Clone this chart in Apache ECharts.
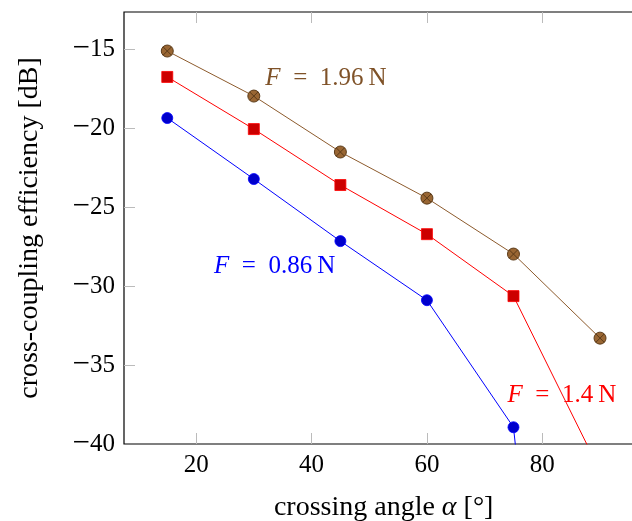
<!DOCTYPE html>
<html>
<head>
<meta charset="utf-8">
<script src="https://cdn.jsdelivr.net/npm/echarts@6/dist/echarts.min.js"></script>
<style>
html,body{margin:0;padding:0;background:#fff;}
#chart1{width:632px;height:521px;}
</style>
</head>
<body>
<div id="chart1"></div>
<script>
//数据
var angles = [15, 30, 45, 60, 75, 90];
var eff_086 = [-19.37, -23.23, -27.16, -30.90, -38.94, -90];
var eff_14 = [-16.77, -20.07, -23.61, -26.72, -30.64, -41.7];
var eff_196 = [-15.13, -17.98, -21.52, -24.44, -27.98, -33.30];
var xTicks = [20, 40, 60, 80];
var yTicks = [-40, -35, -30, -25, -20, -15];
var yTickMarks = [-35, -30, -25, -20, -15]; // -40 处刻度与下边框重合，不画

var font = 'Liberation Serif';

function pairs(ys) {
    var out = [];
    for (var i = 0; i < angles.length; i++) {
        out.push([angles[i], ys[i]]);
    }
    return out;
}

// otimes 标记
var otimes = 'path://M0,10 A10,10 0 1,1 20,10 A10,10 0 1,1 0,10 Z M2.93,2.93 L17.07,17.07 M17.07,2.93 L2.93,17.07';

// 曲线旁的 F = ... 标注
function fLabel(x, y, txt, color) {
    return {
        symbol: 'circle',
        symbolSize: 0,
        silent: true,
        data: [{
            coord: [x, y],
            label: {
                show: true,
                position: 'inside',
                formatter: '{i|F}\u2002=\u2002' + txt + '\u2009N',
                color: color,
                fontFamily: font,
                fontSize: 25,
                rich: {
                    i: { fontStyle: 'italic', fontFamily: font, fontSize: 25, color: color }
                }
            }
        }]
    };
}

var tickStyle = { show: true, inside: true, length: 11, customValues: xTicks, lineStyle: { color: '#bbb', width: 1 } };

var myChart1 = echarts.init(document.getElementById('chart1'));
var option = {
    animation: false,
    grid: {
        left: 124, top: 12, width: 519.3, bottom: 77, containLabel: false,
        outerBoundsMode: 'none',
        show: true, borderColor: '#000', borderWidth: 1.2, backgroundColor: 'transparent'
    },
    xAxis: [{
        type: 'value',
        min: 7.5,
        max: 97.5,
        name: 'crossing angle {a|α} [°]',
        nameLocation: 'middle',
        nameGap: 50,
        nameTextStyle: {
            fontFamily: font, fontSize: 28, color: '#000',
            rich: { a: { fontStyle: 'italic', fontFamily: font, fontSize: 28, color: '#000' } }
        },
        axisLine: { show: false },
        axisTick: tickStyle,
        axisLabel: { customValues: xTicks, margin: 9, fontFamily: font, fontSize: 25, color: '#000' },
        splitLine: { show: false }
    }, {
        type: 'value',
        position: 'top',
        min: 7.5,
        max: 97.5,
        axisLine: { show: false },
        axisTick: tickStyle,
        axisLabel: { show: false },
        splitLine: { show: false }
    }],
    yAxis: {
        type: 'value',
        min: -40,
        max: -12.66,
        name: 'cross-coupling efficiency [dB]',
        nameLocation: 'middle',
        nameGap: 80,
        nameTextStyle: { fontFamily: font, fontSize: 28, color: '#000' },
        axisLine: { show: false },
        axisTick: { show: true, inside: true, length: 11, customValues: yTickMarks, lineStyle: { color: '#bbb', width: 1 } },
        axisLabel: {
            customValues: yTicks,
            margin: 9,
            fontFamily: font,
            fontSize: 25,
            color: '#000',
            formatter: function (v) { return '{m|\u2212}' + Math.abs(v); },
            rich: { m: { fontFamily: font, fontSize: 31, color: '#000' } }
        },
        splitLine: { show: false }
    },
    series: [{
        name: 'F = 0.86 N',
        type: 'line',
        data: pairs(eff_086),
        symbol: 'circle',
        symbolSize: 11,
        lineStyle: { color: '#0000ff', width: 1 },
        itemStyle: { color: '#0000cc', borderColor: '#0000ff', borderWidth: 0.8 },
        markPoint: fLabel(33.6, -28.78, '0.86', '#0000ff')
    }, {
        name: 'F = 1.4 N',
        type: 'line',
        data: pairs(eff_14),
        symbol: 'rect',
        symbolSize: 11,
        lineStyle: { color: '#ff0000', width: 1 },
        itemStyle: { color: '#cc0000', borderColor: '#ff0000', borderWidth: 0.8 },
        markPoint: fLabel(83.4, -36.9, '1.4', '#ff0000')
    }, {
        name: 'F = 1.96 N',
        type: 'line',
        data: pairs(eff_196),
        symbol: otimes,
        symbolSize: 12,
        lineStyle: { color: '#8c5a2c', width: 1 },
        itemStyle: { color: '#996633', borderColor: '#5a3a18', borderWidth: 1 },
        markPoint: fLabel(42.5, -16.84, '1.96', '#7f5228')
    }]
};
myChart1.setOption(option);
</script>
</body>
</html>
